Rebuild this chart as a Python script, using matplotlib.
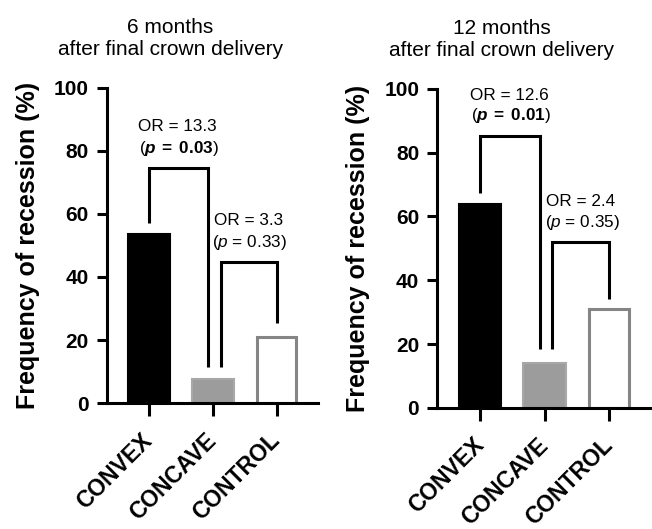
import matplotlib
matplotlib.use("Agg")
import matplotlib.pyplot as plt
import numpy as np

plt.rcParams['font.family'] = ['Liberation Sans', 'DejaVu Sans']
plt.rcParams['mathtext.fontset'] = 'custom'
plt.rcParams['mathtext.rm'] = 'Liberation Sans'
plt.rcParams['mathtext.it'] = 'Liberation Sans:italic'
plt.rcParams['mathtext.bf'] = 'Liberation Sans:bold'
plt.rcParams['mathtext.bfit'] = 'Liberation Sans:italic:bold'

groups = ['CONVEX', 'CONCAVE', 'CONTROL']
freq_6m = [53.6, 7.6, 21.0]
freq_12m = [64.0, 14.2, 31.0]

titles = ['6 months\nafter final crown delivery', '12 months\nafter final crown delivery']

# brackets: (x left, x right, top, left leg bottom, right leg bottom)
brackets_6m = [(0.0, 0.93, 74.6, 57.0, 11.5), (1.12, 2.0, 44.8, 11.5, 25.5)]
brackets_12m = [(0.0, 0.93, 85.3, 67.5, 18.4), (1.12, 2.0, 52.0, 18.4, 34.0)]

# annotation text: (x, y OR line, y p line, OR text, p text, significant)
notes_6m = [(0.45, 87.6, 80.6, 'OR = 13.3', '0.03', True),
            (1.56, 57.8, 50.8, 'OR = 3.3', '0.33', False)]
notes_12m = [(0.46, 98.0, 91.6, 'OR = 12.6', '0.01', True),
             (1.56, 64.7, 58.0, 'OR = 2.4', '0.35', False)]

fig = plt.figure(figsize=(6.52, 5.29), dpi=100)
ax1 = fig.add_axes([0.164, 0.238, 0.324, 0.596])
ax2 = fig.add_axes([0.671, 0.229, 0.328, 0.603])

x = np.arange(len(groups))

for ax, vals, title, brs, notes in [(ax1, freq_6m, titles[0], brackets_6m, notes_6m),
                                     (ax2, freq_12m, titles[1], brackets_12m, notes_12m)]:
    ax.bar(x[0], vals[0], 0.66, color='black', edgecolor='black', linewidth=1.5)
    ax.bar(x[1], vals[1], 0.66, color='#9c9c9c', edgecolor='#a8a8a8', linewidth=1.5)
    ax.bar(x[2], vals[2], 0.62, color='white', edgecolor='#858585', linewidth=2.2)

    for xl, xr, top, bl, br in brs:
        ax.plot([xl, xl, xr, xr], [bl, top, top, br], color='black', lw=2.2,
                solid_joinstyle='miter', solid_capstyle='butt', clip_on=False)

    for xt, y1, y2, ortxt, pval, sig in notes:
        ax.text(xt, y1, ortxt, ha='center', va='center', fontsize=12.3)
        if sig:
            ptxt = '(' + r'$\mathbfit{p}\;\mathbf{=}\;\mathbf{' + pval + r'}$' + ')'
        else:
            ptxt = '(' + r'$\mathit{p}$' + ' = ' + pval + ')'
        ax.text(xt + 0.02, y2, ptxt, ha='center', va='center', fontsize=12.3)

    ax.set_xlim(-0.66, 2.65)
    ax.set_ylim(0, 100)
    ax.set_yticks([0, 20, 40, 60, 80, 100])
    ax.set_xticks(x)
    ax.set_xticklabels(groups, rotation=45, ha='right', va='center',
                       rotation_mode='anchor', fontweight='bold', fontsize=16.5)
    for lbl in ax.get_yticklabels():
        lbl.set_fontweight('bold')
    ax.tick_params(axis='y', direction='out', length=7.2, width=2.2, labelsize=15, pad=6)
    ax.tick_params(axis='x', direction='out', length=9.4, width=2.2, pad=15)
    ax.spines['top'].set_visible(False)
    ax.spines['right'].set_visible(False)
    ax.spines['left'].set_linewidth(2.2)
    ax.spines['bottom'].set_linewidth(2.2)
    ax.set_ylabel('Frequency of recession (%)', fontsize=18, fontweight='bold', labelpad=10)
    ax.text(0.30, 1.09, title, transform=ax.transAxes, ha='center', va='bottom',
            fontsize=15, linespacing=1.2)

fig.savefig('out.png', dpi=100)
